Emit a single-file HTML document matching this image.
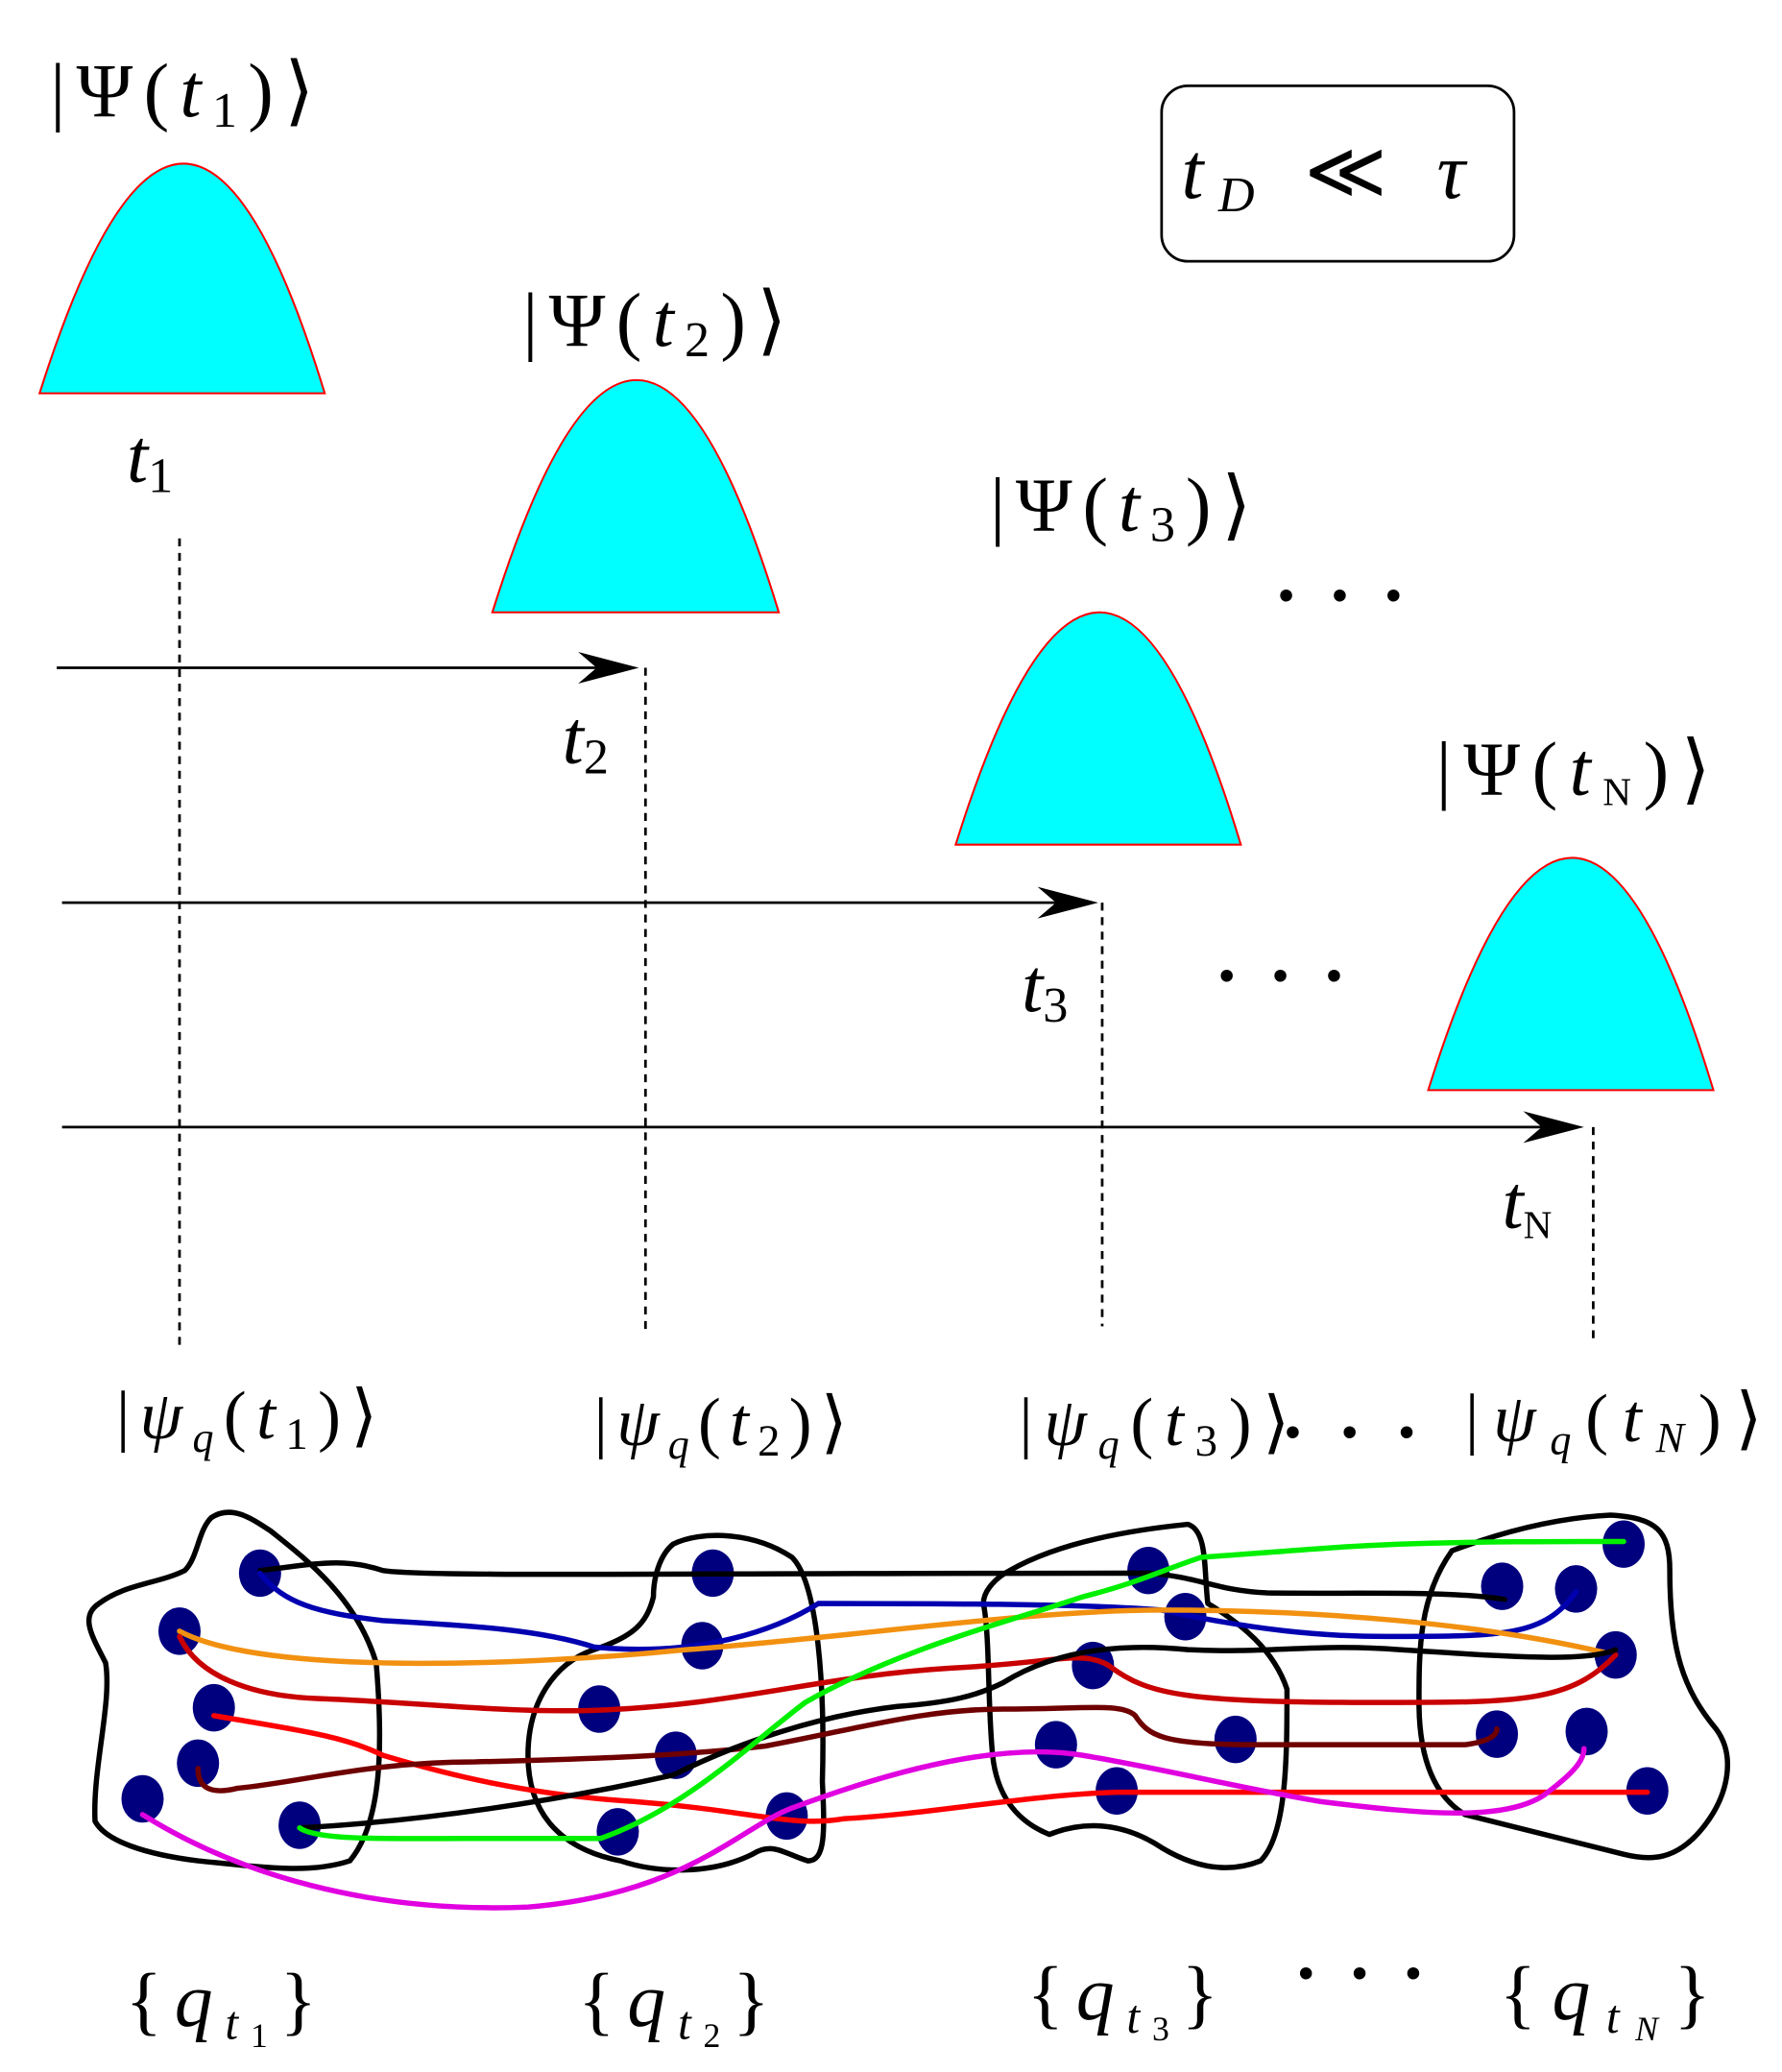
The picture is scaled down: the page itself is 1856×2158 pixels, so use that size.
<!DOCTYPE html>
<html><head><meta charset="utf-8"><style>html,body{margin:0;padding:0;background:#fff}svg{display:block}text{font-family:"Liberation Serif","DejaVu Serif",serif;fill:#000}</style></head><body>
<svg width="1856" height="2158" viewBox="0 0 1350 1570" preserveAspectRatio="none" xmlns="http://www.w3.org/2000/svg">
<g fill="#00ffff" stroke="#ff0000" stroke-width="1.5">
<path d="M30,298 Q140,-50 246,298 Z"/>
<path d="M373,464 Q483,112 590,464 Z"/>
<path d="M724,640 Q834,288 940,640 Z"/>
<path d="M1082,826 Q1192,474 1298,826 Z"/>
</g>
<g font-size="58">
<text x="38" y="88" textLength="200" lengthAdjust="spacing">|Ψ(<tspan font-style="italic">t</tspan><tspan font-size="38" dy="8">1</tspan><tspan dy="-8">)⟩</tspan></text>
<text x="396" y="262" textLength="200" lengthAdjust="spacing">|Ψ(<tspan font-style="italic">t</tspan><tspan font-size="38" dy="8">2</tspan><tspan dy="-8">)⟩</tspan></text>
<text x="750" y="402" textLength="198" lengthAdjust="spacing">|Ψ(<tspan font-style="italic">t</tspan><tspan font-size="38" dy="8">3</tspan><tspan dy="-8">)⟩</tspan></text>
<text x="1088" y="602" textLength="208" lengthAdjust="spacing">|Ψ(<tspan font-style="italic">t</tspan><tspan font-size="30" dy="8">N</tspan><tspan dy="-8">)⟩</tspan></text>
<text x="96" y="365" font-style="italic">t<tspan font-size="38" font-style="normal" dy="8">1</tspan></text>
<text x="426" y="578" font-style="italic">t<tspan font-size="38" font-style="normal" dy="8">2</tspan></text>
<text x="774" y="766" font-style="italic">t<tspan font-size="38" font-style="normal" dy="8">3</tspan></text>
<text x="1138" y="930" font-style="italic">t<tspan font-size="30" font-style="normal" dy="8">N</tspan></text>
</g>
<rect x="880" y="65" width="267" height="133" rx="20" fill="none" stroke="#000" stroke-width="2"/>
<text x="895" y="150" font-size="60" font-style="italic" textLength="215" lengthAdjust="spacing">t<tspan font-size="38" dy="10">D</tspan><tspan dy="-10" font-style="normal"> ≪ </tspan>τ</text>
<g font-size="56" font-weight="bold">
<text x="965" y="470" textLength="100" lengthAdjust="spacing">· · ·</text>
<text x="920" y="758" textLength="100" lengthAdjust="spacing">· · ·</text>
<text x="970" y="1104" textLength="105" lengthAdjust="spacing">· · ·</text>
<text x="980" y="1514" textLength="100" lengthAdjust="spacing">· · ·</text>
</g>
<g stroke="#000" stroke-width="2" fill="none">
<line x1="43" y1="506" x2="470" y2="506"/>
<line x1="47" y1="684" x2="818" y2="684"/>
<line x1="47" y1="854" x2="1186" y2="854"/>
<g stroke-dasharray="6,5">
<line x1="136" y1="408" x2="136" y2="1020"/>
<line x1="489" y1="506" x2="489" y2="1010"/>
<line x1="835" y1="684" x2="835" y2="1005"/>
<line x1="1207" y1="854" x2="1207" y2="1015"/>
</g>
</g>
<g fill="#000">
<path d="M484,506 L438,494 L452,506 L438,518 Z"/>
<path d="M832,684 L786,672 L800,684 L786,696 Z"/>
<path d="M1200,854 L1154,842 L1168,854 L1154,866 Z"/>
</g>
<g font-size="52">
<text x="88" y="1090" textLength="198" lengthAdjust="spacing">|<tspan font-style="italic">ψ</tspan><tspan font-size="32" font-style="italic" dy="10">q</tspan><tspan dy="-10">(</tspan><tspan font-style="italic">t</tspan><tspan font-size="34" dy="8">1</tspan><tspan dy="-8">)⟩</tspan></text>
<text x="450" y="1095" textLength="192" lengthAdjust="spacing">|<tspan font-style="italic">ψ</tspan><tspan font-size="32" font-style="italic" dy="10">q</tspan><tspan dy="-10">(</tspan><tspan font-style="italic">t</tspan><tspan font-size="34" dy="8">2</tspan><tspan dy="-8">)⟩</tspan></text>
<text x="772" y="1095" textLength="205" lengthAdjust="spacing">|<tspan font-style="italic">ψ</tspan><tspan font-size="32" font-style="italic" dy="10">q</tspan><tspan dy="-10">(</tspan><tspan font-style="italic">t</tspan><tspan font-size="34" dy="8">3</tspan><tspan dy="-8">)⟩</tspan></text>
<text x="1110" y="1092" textLength="225" lengthAdjust="spacing">|<tspan font-style="italic">ψ</tspan><tspan font-size="32" font-style="italic" dy="10">q</tspan><tspan dy="-10">(</tspan><tspan font-style="italic">t</tspan><tspan font-size="32" font-style="italic" dy="8">N</tspan><tspan dy="-8">)⟩</tspan></text>
<text x="95" y="1535" font-size="58" textLength="145" lengthAdjust="spacing">{<tspan font-style="italic">q</tspan><tspan font-size="36" font-style="italic" dy="10">t</tspan><tspan font-size="26" dy="6">1</tspan><tspan dy="-16">}</tspan></text>
<text x="438" y="1535" font-size="58" textLength="145" lengthAdjust="spacing">{<tspan font-style="italic">q</tspan><tspan font-size="36" font-style="italic" dy="10">t</tspan><tspan font-size="26" dy="6">2</tspan><tspan dy="-16">}</tspan></text>
<text x="778" y="1530" font-size="58" textLength="145" lengthAdjust="spacing">{<tspan font-style="italic">q</tspan><tspan font-size="36" font-style="italic" dy="10">t</tspan><tspan font-size="26" dy="6">3</tspan><tspan dy="-16">}</tspan></text>
<text x="1136" y="1530" font-size="58" textLength="160" lengthAdjust="spacing">{<tspan font-style="italic">q</tspan><tspan font-size="36" font-style="italic" dy="10">t</tspan><tspan font-size="26" font-style="italic" dy="6">N</tspan><tspan dy="-16">}</tspan></text>
</g>
<g fill="none" stroke="#000" stroke-width="4" stroke-linejoin="round">
<path d="M160,1150 C175,1140 190,1150 205,1160 C230,1180 270,1210 285,1260 C290,1320 290,1380 265,1410 C235,1420 200,1415 150,1410 C110,1405 80,1395 72,1380 C70,1340 85,1290 80,1260 C70,1240 60,1225 75,1215 C95,1200 120,1200 140,1190 C150,1180 150,1160 160,1150 Z"/>
<path d="M510,1170 C530,1160 570,1160 600,1180 C620,1200 625,1280 623,1350 C625,1390 625,1410 612,1410 C595,1405 585,1395 570,1405 C540,1420 500,1420 470,1410 C420,1400 400,1370 400,1330 C400,1290 420,1260 450,1250 C480,1240 490,1230 495,1210 C495,1195 500,1178 510,1170 Z"/>
<path d="M765,1190 C800,1170 850,1160 900,1155 C915,1160 912,1190 915,1215 C940,1230 965,1250 975,1280 C975,1330 975,1390 955,1410 C930,1420 905,1415 880,1400 C850,1380 820,1380 795,1390 C770,1380 755,1360 752,1330 C748,1290 750,1240 745,1215 C745,1205 755,1195 765,1190 Z"/>
<path d="M1100,1175 C1140,1160 1180,1150 1220,1148 C1255,1150 1265,1160 1265,1190 C1265,1250 1275,1280 1300,1310 C1315,1330 1310,1360 1290,1385 C1270,1410 1250,1410 1230,1405 C1190,1395 1150,1385 1110,1375 C1085,1360 1075,1330 1075,1290 C1075,1250 1075,1210 1100,1175 Z"/>
</g>
<g fill="#00007f">
<ellipse cx="197" cy="1192" rx="16" ry="18"/><ellipse cx="136" cy="1236" rx="16" ry="18"/><ellipse cx="162" cy="1294" rx="16" ry="18"/><ellipse cx="150" cy="1336" rx="16" ry="18"/><ellipse cx="108" cy="1363" rx="16" ry="18"/><ellipse cx="227" cy="1383" rx="16" ry="18"/>
<ellipse cx="540" cy="1192" rx="16" ry="18"/><ellipse cx="532" cy="1247" rx="16" ry="18"/><ellipse cx="454" cy="1295" rx="16" ry="18"/><ellipse cx="512" cy="1330" rx="16" ry="18"/><ellipse cx="468" cy="1388" rx="16" ry="18"/><ellipse cx="596" cy="1376" rx="16" ry="18"/>
<ellipse cx="870" cy="1190" rx="16" ry="18"/><ellipse cx="898" cy="1225" rx="16" ry="18"/><ellipse cx="828" cy="1262" rx="16" ry="18"/><ellipse cx="936" cy="1318" rx="16" ry="18"/><ellipse cx="800" cy="1322" rx="16" ry="18"/><ellipse cx="846" cy="1357" rx="16" ry="18"/>
<ellipse cx="1230" cy="1170" rx="16" ry="18"/><ellipse cx="1138" cy="1202" rx="16" ry="18"/><ellipse cx="1194" cy="1204" rx="16" ry="18"/><ellipse cx="1224" cy="1254" rx="16" ry="18"/><ellipse cx="1134" cy="1314" rx="16" ry="18"/><ellipse cx="1202" cy="1312" rx="16" ry="18"/><ellipse cx="1248" cy="1357" rx="16" ry="18"/>
</g>
<g fill="none" stroke-width="4" stroke-linecap="round">
<path stroke="#000" d="M197,1190 C240,1185 260,1180 290,1190 C320,1195 500,1192 870,1192 C910,1195 920,1205 960,1207 C1020,1208 1100,1205 1140,1212"/>
<path stroke="#0000b0" d="M197,1192 C215,1215 240,1222 290,1228 C360,1232 410,1235 450,1248 C520,1255 580,1240 620,1215 C700,1215 820,1215 880,1220 C950,1235 1000,1240 1050,1240 C1140,1240 1170,1240 1194,1206"/>
<path stroke="#f29111" d="M136,1236 C200,1270 400,1262 520,1250 C650,1240 780,1220 880,1220 C1000,1220 1120,1230 1215,1252"/>
<path stroke="#c80000" d="M136,1240 C150,1270 190,1285 240,1287 C320,1290 380,1298 450,1296 C560,1292 620,1270 720,1264 C800,1260 820,1250 840,1262 C870,1285 900,1290 1050,1290 C1150,1290 1190,1290 1224,1254"/>
<path stroke="#ff0000" d="M162,1300 C220,1310 260,1315 290,1330 C340,1345 400,1360 480,1365 C570,1372 600,1385 640,1378 C700,1375 780,1360 846,1358 C950,1358 1100,1358 1248,1358"/>
<path stroke="#6e0000" d="M150,1340 C150,1355 160,1360 180,1355 C230,1350 280,1335 360,1335 C450,1333 520,1330 580,1323 C650,1310 700,1295 760,1295 C820,1295 850,1290 860,1300 C870,1315 880,1322 950,1322 C1020,1322 1080,1322 1110,1322 C1125,1320 1134,1316 1134,1310"/>
<path stroke="#000" d="M227,1385 C320,1380 420,1365 510,1345 C560,1320 620,1300 680,1293 C720,1290 740,1285 760,1275 C800,1250 850,1245 900,1250 C960,1253 1000,1245 1060,1250 C1140,1255 1200,1260 1224,1250"/>
<path stroke="#00f000" d="M227,1385 C240,1395 300,1393 350,1393 L455,1393 C520,1370 570,1320 610,1290 C680,1250 760,1230 820,1210 C860,1200 880,1190 910,1180 C980,1175 1010,1172 1060,1170 C1120,1168 1180,1168 1230,1168"/>
<path stroke="#e000e0" d="M108,1375 C180,1420 280,1450 400,1445 C520,1435 560,1385 600,1370 C680,1340 760,1320 820,1330 C880,1340 940,1355 1000,1365 C1080,1375 1140,1380 1170,1360 C1190,1345 1200,1335 1200,1325"/>
</g>
</svg>
</body></html>
